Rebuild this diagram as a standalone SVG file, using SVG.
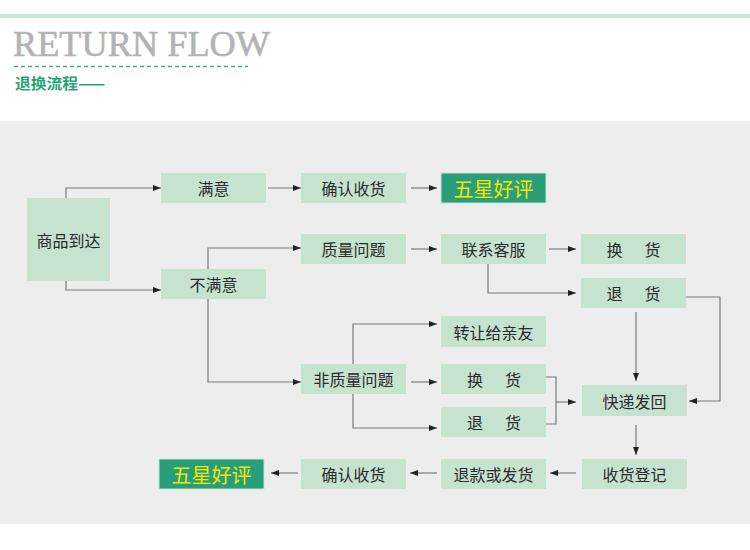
<svg xmlns="http://www.w3.org/2000/svg" width="750" height="550" viewBox="0 0 750 550">
<style>
.n rect{fill:#c5e3cf}
.n text{font-family:"Noto Sans CJK SC","Noto Sans",sans-serif;font-size:16px;fill:#2b2b2b;text-anchor:middle;dominant-baseline:central}
.s rect{fill:#2a9d7a;stroke:#c5e3cf;stroke-width:1}
.s text{font-family:"Noto Sans CJK SC","Noto Sans",sans-serif;font-size:20px;fill:#f0e800;text-anchor:middle;dominant-baseline:central}
.c path{fill:none;stroke:#7a7a7a;stroke-width:1.2}
</style>
<defs>
<marker id="a" viewBox="0 0 8 6" refX="8" refY="3" markerWidth="8" markerHeight="6" markerUnits="userSpaceOnUse" orient="auto">
<path d="M0,0 L8,3 L0,6 z" fill="#222"/>
</marker>
</defs>
<rect x="0" y="0" width="750" height="550" fill="#fff"/>
<rect x="0" y="14" width="750" height="4" fill="#c8e6d2"/>
<text x="13" y="56" font-family="Liberation Serif, serif" font-size="36" fill="#b3b3b3" stroke="#b3b3b3" stroke-width="0.6" textLength="257" lengthAdjust="spacingAndGlyphs">RETURN FLOW</text>
<line x1="14" y1="66.5" x2="248" y2="66.5" stroke="#3db58c" stroke-width="1.5" stroke-dasharray="4 3"/>
<text x="15" y="89" font-family="Noto Sans CJK SC, sans-serif" font-size="15" font-weight="bold" fill="#2aa37a" textLength="90" lengthAdjust="spacingAndGlyphs">退换流程——</text>
<rect x="0" y="121" width="750" height="403" fill="#ededed"/>

<g class="c" id="connectors">
<path d="M66,198 V188 H161" marker-end="url(#a)"/>
<path d="M66,281 V290 H161" marker-end="url(#a)"/>
<path d="M268,188 H301" marker-end="url(#a)"/>
<path d="M411,188 H437" marker-end="url(#a)"/>
<path d="M208,269 V248 H301" marker-end="url(#a)"/>
<path d="M208,299 V382 H301" marker-end="url(#a)"/>
<path d="M411,249 H437" marker-end="url(#a)"/>
<path d="M549,249 H576" marker-end="url(#a)"/>
<path d="M488,264 V293 H576" marker-end="url(#a)"/>
<path d="M686,297 H720 V401 H689" marker-end="url(#a)"/>
<path d="M636,312 V381" marker-end="url(#a)"/>
<path d="M353,364 V324 H437" marker-end="url(#a)"/>
<path d="M411,382 H437" marker-end="url(#a)"/>
<path d="M353,394 V428 H437" marker-end="url(#a)"/>
<path d="M546,377 H556 V424 H546"/>
<path d="M556,402 H576" marker-end="url(#a)"/>
<path d="M636,425 V455" marker-end="url(#a)"/>
<path d="M576,473 H550" marker-end="url(#a)"/>
<path d="M437,473 H410" marker-end="url(#a)"/>
<path d="M298,473 H271" marker-end="url(#a)"/>
</g>

<g class="n" id="arrive"><rect x="27" y="198" width="83" height="83"/><text x="68.5" y="240">商品到达</text></g>
<g class="n" id="satisfied"><rect x="161" y="173" width="105" height="30"/><text x="213.5" y="188">满意</text></g>
<g class="n" id="unsatisfied"><rect x="161" y="269" width="105" height="30"/><text x="213.5" y="284">不满意</text></g>
<g class="n" id="confirm1"><rect x="301" y="173" width="105" height="30"/><text x="353.5" y="188">确认收货</text></g>
<g class="s" id="star1"><rect x="441" y="173" width="105" height="30"/><text x="493.5" y="188">五星好评</text></g>
<g class="n" id="quality"><rect x="301" y="234" width="105" height="30"/><text x="353.5" y="249">质量问题</text></g>
<g class="n" id="service"><rect x="441" y="234" width="105" height="30"/><text x="493.5" y="249">联系客服</text></g>
<g class="n" id="exchange1"><rect x="581" y="234" width="105" height="30"/><text y="249"><tspan x="614.5">换</tspan><tspan x="652.5">货</tspan></text></g>
<g class="n" id="return1"><rect x="581" y="278" width="105" height="30"/><text y="293"><tspan x="614.5">退</tspan><tspan x="652.5">货</tspan></text></g>
<g class="n" id="transfer"><rect x="441" y="316" width="105" height="31"/><text x="493.5" y="331.5">转让给亲友</text></g>
<g class="n" id="nonquality"><rect x="301" y="364" width="105" height="30"/><text x="353.5" y="379">非质量问题</text></g>
<g class="n" id="exchange2"><rect x="441" y="364" width="105" height="30"/><text y="379"><tspan x="475">换</tspan><tspan x="513">货</tspan></text></g>
<g class="n" id="return2"><rect x="441" y="407" width="105" height="30"/><text y="422"><tspan x="475">退</tspan><tspan x="513">货</tspan></text></g>
<g class="n" id="express"><rect x="582" y="385" width="105" height="31"/><text x="634.5" y="400.5">快递发回</text></g>
<g class="n" id="register"><rect x="582" y="459" width="105" height="30"/><text x="634.5" y="474">收货登记</text></g>
<g class="n" id="refund"><rect x="441" y="459" width="105" height="30"/><text x="493.5" y="474">退款或发货</text></g>
<g class="n" id="confirm2"><rect x="301" y="459" width="105" height="30"/><text x="353.5" y="474">确认收货</text></g>
<g class="s" id="star2"><rect x="159" y="459" width="105" height="30"/><text x="211.5" y="474">五星好评</text></g>
</svg>
